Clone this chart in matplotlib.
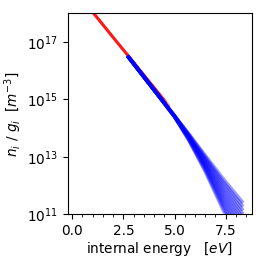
import numpy as np
import matplotlib
matplotlib.use("Agg")
import matplotlib.pyplot as plt
from matplotlib.ticker import MultipleLocator, FixedLocator, NullLocator, LogFormatterMathtext

# Red series (log10 of n_i/g_i) vs energy
red_energy = [
    [0.2, 1.0, 2.0, 3.0, 4.0, 4.3],
    [0.2, 1.0, 2.0, 3.0, 4.0, 4.5],
    [0.2, 1.0, 2.0, 3.0, 4.0, 4.6],
    [0.2, 1.0, 2.0, 3.0, 4.0, 4.75],
]
red_log = [
    [18.74, 18.04, 17.16, 16.29, 15.41, 15.15],
    [18.74, 18.04, 17.16, 16.29, 15.41, 14.97],
    [18.74, 18.04, 17.16, 16.29, 15.41, 14.89],
    [18.74, 18.04, 17.16, 16.29, 15.41, 14.76],
]

# Blue ensemble
blue_energy = [2.7, 3.5, 4.3, 5.0, 5.7, 6.5, 7.4, 8.35]
blue_log = [
    [16.52, 15.79, 15.06, 14.43, 13.80, 13.05, 12.22, 11.40],
    [16.52, 15.79, 15.06, 14.43, 13.78, 13.00, 12.12, 11.27],
    [16.52, 15.79, 15.06, 14.43, 13.76, 12.95, 12.02, 11.14],
    [16.52, 15.79, 15.06, 14.42, 13.74, 12.90, 11.92, 11.01],
    [16.52, 15.79, 15.06, 14.42, 13.72, 12.85, 11.82, 10.88],
    [16.52, 15.79, 15.06, 14.42, 13.70, 12.80, 11.72, 10.75],
    [16.52, 15.79, 15.06, 14.41, 13.68, 12.75, 11.62, 10.62],
    [16.52, 15.79, 15.06, 14.41, 13.66, 12.70, 11.52, 10.48],
    [16.52, 15.79, 15.06, 14.41, 13.64, 12.65, 11.42, 10.34],
    [16.52, 15.79, 15.06, 14.40, 13.62, 12.60, 11.32, 10.20],
    [16.52, 15.79, 15.06, 14.40, 13.60, 12.55, 11.22, 10.05],
    [16.52, 15.79, 15.06, 14.40, 13.58, 12.50, 11.12, 9.90],
]

y_ticks = [1e11, 1e13, 1e15, 1e17]

plt.rcParams['font.size'] = 9.8
fig = plt.figure(figsize=(2.66, 2.66), dpi=100)
ax = fig.add_axes([0.254, 0.194, 0.692, 0.756])

for xs, ys in zip(red_energy, red_log):
    ax.plot(xs, 10.0 ** np.array(ys), color='red', alpha=0.45, lw=2.0, solid_capstyle='butt')
for ys in blue_log:
    ax.plot(blue_energy, 10.0 ** np.array(ys), color='blue', alpha=0.4, lw=2.6, solid_capstyle='butt')

ax.set_yscale('log')
ax.set_ylim(1e11, 1e18)
ax.set_xlim(-0.23, 8.77)
ax.xaxis.set_major_locator(MultipleLocator(2.5))
ax.xaxis.set_minor_locator(MultipleLocator(0.5))
ax.yaxis.set_major_locator(FixedLocator(y_ticks))
ax.yaxis.set_major_formatter(LogFormatterMathtext())
ax.yaxis.set_minor_locator(NullLocator())

ax.set_xlabel(r'internal energy   $[eV]$', labelpad=1)
ax.set_ylabel(r'$n_i\ /\ g_i\ \ [m^{-3}]$', labelpad=2)

fig.savefig('out.png', dpi=100)
